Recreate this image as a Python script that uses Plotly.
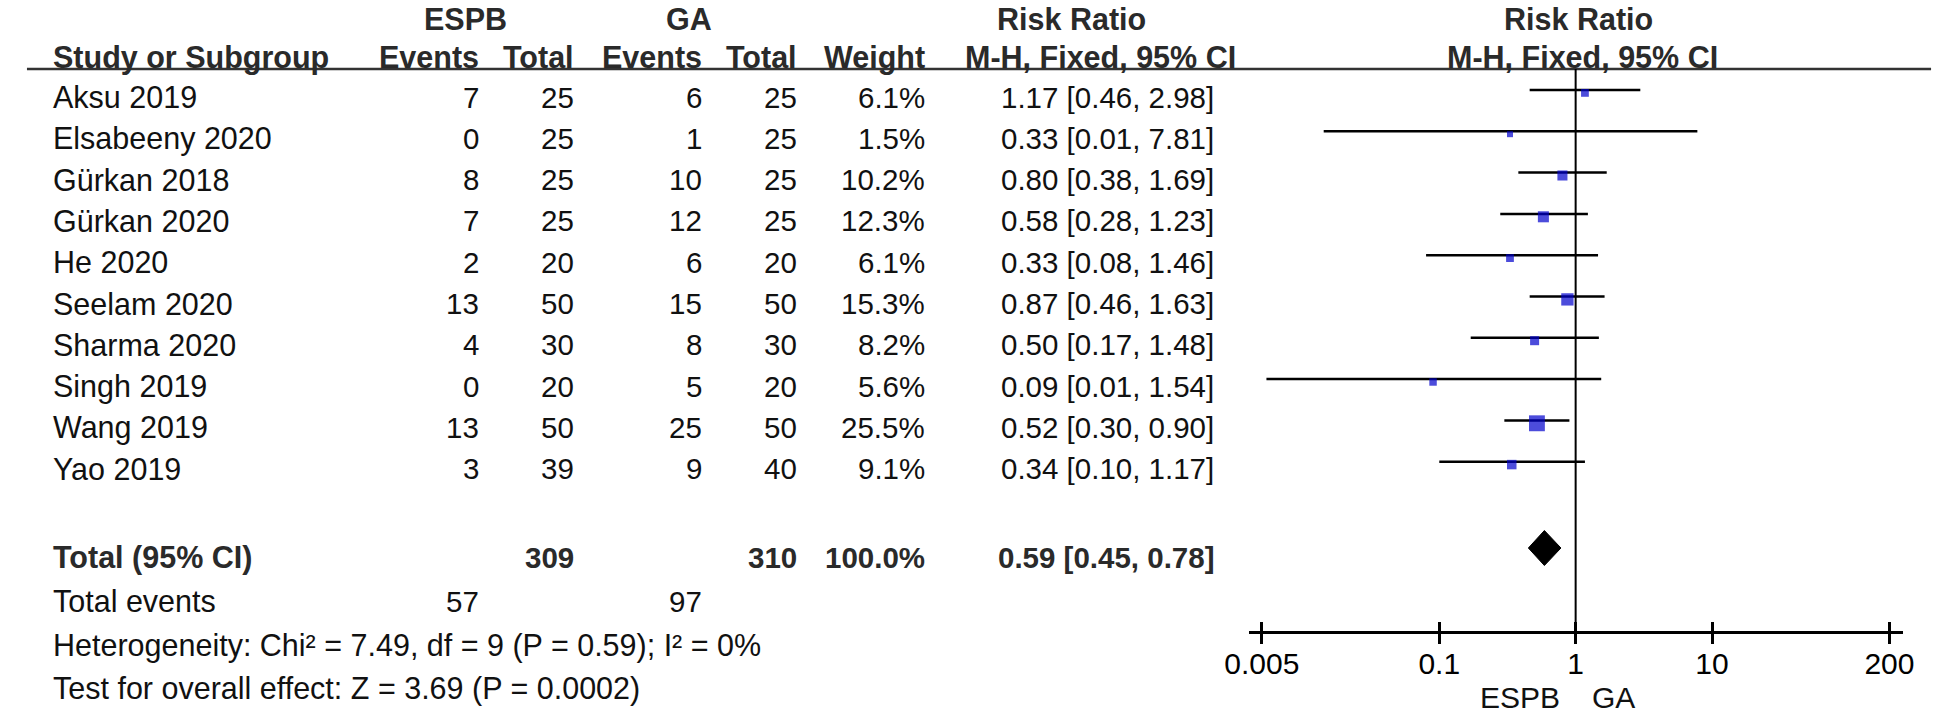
import plotly.graph_objects as go

# ---------------- data ----------------
studies = ["Aksu 2019", "Elsabeeny 2020", "Gürkan 2018", "Gürkan 2020", "He 2020",
           "Seelam 2020", "Sharma 2020", "Singh 2019", "Wang 2019", "Yao 2019"]
espb_events = [7, 0, 8, 7, 2, 13, 4, 0, 13, 3]
espb_total = [25, 25, 25, 25, 20, 50, 30, 20, 50, 39]
ga_events = [6, 1, 10, 12, 6, 15, 8, 5, 25, 9]
ga_total = [25, 25, 25, 25, 20, 50, 30, 20, 50, 40]
weights = [6.1, 1.5, 10.2, 12.3, 6.1, 15.3, 8.2, 5.6, 25.5, 9.1]
rr = [1.17, 0.33, 0.80, 0.58, 0.33, 0.87, 0.50, 0.09, 0.52, 0.34]
ci_lo = [0.46, 0.0142, 0.38, 0.28, 0.08, 0.46, 0.17, 0.0054, 0.30, 0.10]
ci_hi = [2.98, 7.81, 1.69, 1.23, 1.46, 1.63, 1.48, 1.54, 0.90, 1.17]
pooled = [0.59, 0.45, 0.78]
total_weight = "100.0%"
heterogeneity = "Heterogeneity: Chi² = 7.49, df = 9 (P = 0.59); I² = 0%"
overall = "Test for overall effect: Z = 3.69 (P = 0.0002)"
tick_vals = [0.005, 0.1, 1, 10, 200]
tick_text = ["0.005", "0.1", "1", "10", "200"]
group_a, group_b = "ESPB", "GA"

# ---------------- layout helpers ----------------
W, H = 1946, 716
ROW0, ROWH = 90.0, 41.3          # pixel y of first study row, row pitch
FONT = "Liberation Sans, Arial, sans-serif"
FS_TXT = 30.5     # words
FS_NUM = 29.5     # numeric columns
FS_B = 30.5       # bold headers
TXT = "#111111"
HDR = "#2a2a2a"


def prow(px):
    return (px - ROW0) / ROWH


def xp(px):
    return px / W


def yp(px):
    return 1 - px / H


AXIS_Y = 632
HEAD_LINE_Y = 69

fig = go.Figure()

# CI lines
lx, ly = [], []
for i in range(len(studies)):
    lx += [ci_lo[i], ci_hi[i], None]
    ly += [i, i, None]
fig.add_trace(go.Scatter(x=lx, y=ly, mode="lines", line=dict(color="black", width=2.5),
                         hoverinfo="skip"))

# study squares
sizes = [max(6, 3.15 * w ** 0.5) for w in weights]
fig.add_trace(go.Scatter(x=rr, y=[i + 0.07 for i in range(len(studies))], mode="markers",
                         marker=dict(symbol="square", size=sizes, color="#0000cc", line_width=0),
                         hoverinfo="skip"))

# pooled diamond
r_tot = prow(548)
hh = 17.5 / ROWH
fig.add_trace(go.Scatter(x=[pooled[1], pooled[0], pooled[2], pooled[0], pooled[1]],
                         y=[r_tot, r_tot - hh, r_tot, r_tot + hh, r_tot],
                         mode="lines", fill="toself", fillcolor="black",
                         line=dict(color="black", width=1), hoverinfo="skip"))

# invisible trace for the overlay axis (inside half of ticks)
fig.add_trace(go.Scatter(x=[1], y=[0], mode="markers", marker=dict(opacity=0),
                         xaxis="x2", yaxis="y", hoverinfo="skip"))

# ---------------- table text ----------------
ann = []


def t(text, x, y, anchor="left", bold=False, size=None, color=None, yref="y", yanchor="middle"):
    if size is None:
        size = FS_B if bold else FS_TXT
    ann.append(dict(text=f"<b>{text}</b>" if bold else text, x=xp(x), xref="paper",
                    y=y, yref=yref, xanchor=anchor, yanchor=yanchor, showarrow=False,
                    font=dict(family=FONT, size=size, color=color or (HDR if bold else TXT))))


# column positions (px)
C_LABEL, C_EA, C_TA, C_EB, C_TB, C_W, C_CI = 27, 465, 562, 692, 789, 919, 1214

# headers (first header row hugs the top edge)
for txt, xc in [(group_a, 449), (group_b, 677), ("Risk Ratio", 1067), ("Risk Ratio", 1584)]:
    t(txt, xc, 1, "center", True, yref="paper", yanchor="top")
h2 = prow(57)
t("Study or Subgroup", C_LABEL, h2, "left", True)
t("Events", C_EA, h2, "right", True)
t("Total", C_TA, h2, "right", True)
t("Events", C_EB, h2, "right", True)
t("Total", C_TB, h2, "right", True)
t("Weight", C_W, h2, "right", True)
t("M-H, Fixed, 95% CI", 1096, h2, "center", True)
t("M-H, Fixed, 95% CI", 1588, h2, "center", True)

for i, s in enumerate(studies):
    y = i + 0.17
    t(s, C_LABEL, y)
    t(str(espb_events[i]), C_EA, y, "right", size=FS_NUM)
    t(str(espb_total[i]), C_TA, y, "right", size=FS_NUM)
    t(str(ga_events[i]), C_EB, y, "right", size=FS_NUM)
    t(str(ga_total[i]), C_TB, y, "right", size=FS_NUM)
    t(f"{weights[i]:.1f}%", C_W, y, "right", size=FS_NUM)
    t(f"{rr[i]:.2f} [{ci_lo[i]:.2f}, {ci_hi[i]:.2f}]", C_CI, y, "right", size=FS_NUM)

yt = prow(557)
t("Total (95% CI)", C_LABEL, yt, "left", True)
t(str(sum(espb_total)), C_TA, yt, "right", True, size=FS_NUM)
t(str(sum(ga_total)), C_TB, yt, "right", True, size=FS_NUM)
t(total_weight, C_W, yt, "right", True, size=FS_NUM)
t(f"{pooled[0]:.2f} [{pooled[1]:.2f}, {pooled[2]:.2f}]", C_CI, yt, "right", True, size=FS_NUM)

ye = prow(601)
t("Total events", C_LABEL, ye)
t(str(sum(espb_events)), C_EA, ye, "right", size=FS_NUM)
t(str(sum(ga_events)), C_EB, ye, "right", size=FS_NUM)
t(heterogeneity, C_LABEL, prow(645))
t(overall, C_LABEL, prow(688))

# favours labels under axis
t(group_a, 1567, 0, "right", size=30, yref="paper", yanchor="bottom")
t(group_b, 1595, 0, "left", size=30, yref="paper", yanchor="bottom")

fig.update_layout(annotations=ann)

# ---------------- shapes ----------------
fig.add_shape(type="line", xref="paper", yref="paper", x0=xp(2), x1=xp(1943),
              y0=yp(HEAD_LINE_Y), y1=yp(HEAD_LINE_Y), line=dict(color="#333333", width=2.5))
fig.add_shape(type="line", xref="x", yref="paper", x0=1, x1=1,
              y0=yp(HEAD_LINE_Y), y1=yp(AXIS_Y), line=dict(color="black", width=2))

# ---------------- axes ----------------
xr = [(1248 - 1580.7) / 139.0, (1914 - 1580.7) / 139.0]
dom = [xp(1248), xp(1914)]
common = dict(type="log", range=xr, domain=dom, anchor="free", position=yp(AXIS_Y),
              tickvals=tick_vals, showgrid=False, zeroline=False, ticklen=10,
              tickwidth=2.5, tickcolor="black", fixedrange=True)
fig.update_layout(
    xaxis=dict(**common, showline=True, linewidth=2.5, linecolor="black", ticks="outside",
               ticktext=tick_text, tickfont=dict(family=FONT, size=30, color="black"),
               ticklabelstandoff=-6),
    xaxis2=dict(**common, overlaying="x", showline=False, ticks="inside", showticklabels=False),
    yaxis=dict(range=[prow(H), prow(0)], domain=[0, 1], visible=False, fixedrange=True),
    width=W, height=H, margin=dict(l=0, r=0, t=0, b=0),
    plot_bgcolor="white", paper_bgcolor="white", showlegend=False,
)

fig.write_html("out.html", config={"displayModeBar": False},
               post_script="document.body.style.margin='0';")
